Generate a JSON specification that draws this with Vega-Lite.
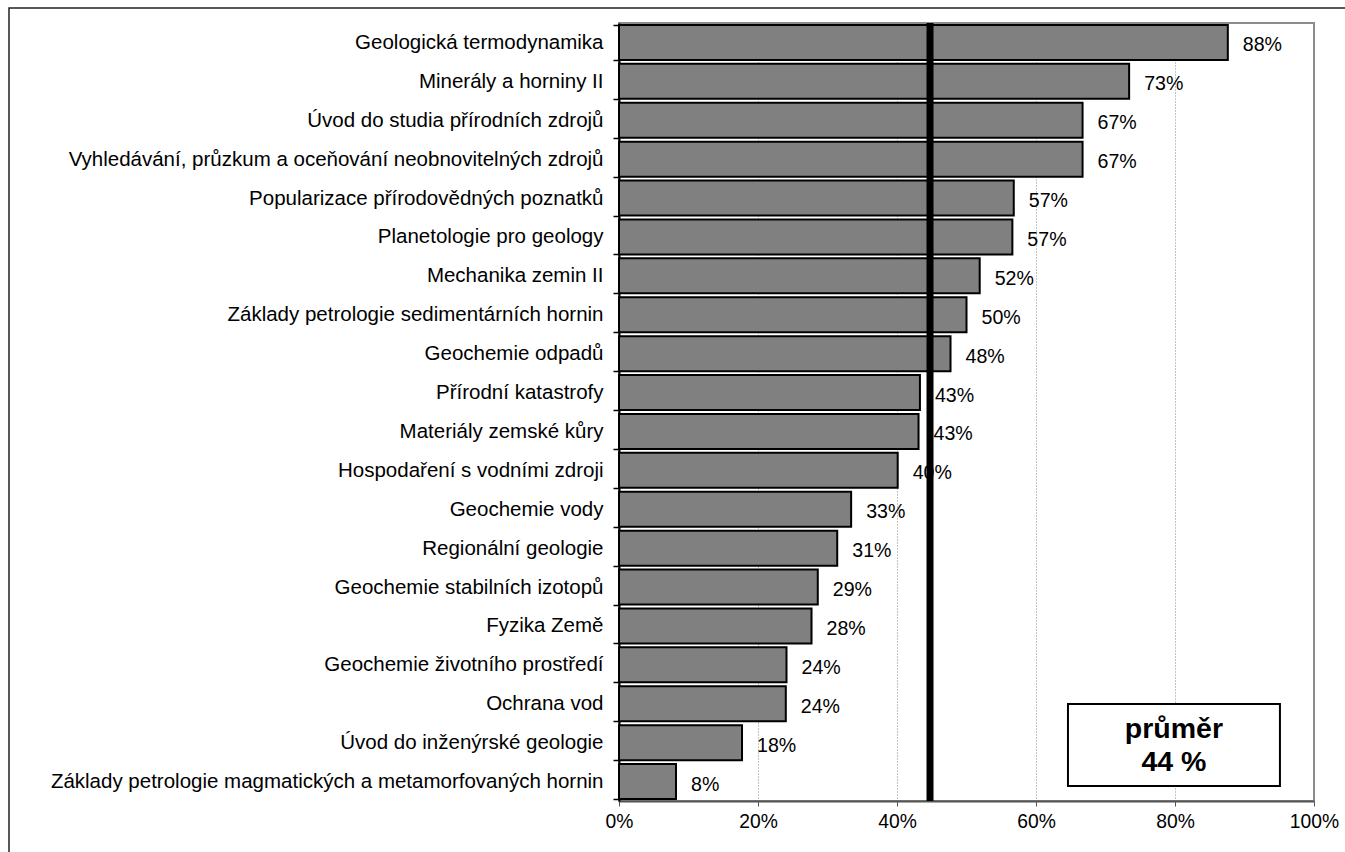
{
  "$schema": "https://vega.github.io/schema/vega-lite/v6.json",
  "width": 695,
  "height": 778,
  "autosize": {"type": "none"},
  "padding": {"left": 619, "top": 23, "right": 31, "bottom": 51},
  "background": "white",
  "config": {
    "font": "Liberation Sans",
    "view": {"stroke": "#8c8c8c", "strokeWidth": 2}
  },
  "datasets": {
    "courses": [
      {"k": "Geologická termodynamika", "v": 0.876},
      {"k": "Minerály a horniny II", "v": 0.734},
      {"k": "Úvod do studia přírodních zdrojů", "v": 0.667},
      {"k": "Vyhledávání, průzkum a oceňování neobnovitelných zdrojů", "v": 0.667},
      {"k": "Popularizace přírodovědných poznatků", "v": 0.568},
      {"k": "Planetologie pro geology", "v": 0.566},
      {"k": "Mechanika zemin II", "v": 0.519},
      {"k": "Základy petrologie sedimentárních hornin", "v": 0.5},
      {"k": "Geochemie odpadů", "v": 0.477},
      {"k": "Přírodní katastrofy", "v": 0.433},
      {"k": "Materiály zemské kůry", "v": 0.431},
      {"k": "Hospodaření s vodními zdroji", "v": 0.401},
      {"k": "Geochemie vody", "v": 0.334},
      {"k": "Regionální geologie", "v": 0.314},
      {"k": "Geochemie stabilních izotopů", "v": 0.286},
      {"k": "Fyzika Země", "v": 0.277},
      {"k": "Geochemie životního prostředí", "v": 0.241},
      {"k": "Ochrana vod", "v": 0.24},
      {"k": "Úvod do inženýrské geologie", "v": 0.177},
      {"k": "Základy petrologie magmatických a metamorfovaných hornin", "v": 0.082}
    ],
    "avg": [{"v": 0.4475}],
    "box": [{"x": 0.646, "x2": 0.951, "y": 0.0193, "y2": 0.1247}],
    "boxtext": [
      {"t": "průměr", "x": 0.7985, "y": 0.0925},
      {"t": "44 %", "x": 0.7985, "y": 0.05}
    ],
    "frame": [{"x": -0.8777, "x2": 1.2, "y": 1.0193, "y2": -0.2}]
  },
  "layer": [
    {
      "layer": [
        {
          "data": {"name": "courses"},
          "mark": {"type": "bar", "fill": "#808080", "stroke": "black", "strokeWidth": 2},
          "encoding": {
            "y": {
              "field": "k", "type": "nominal", "sort": null,
              "scale": {"paddingInner": 0.1, "paddingOuter": 0.05},
              "axis": {
                "title": null, "domainColor": "black", "domainWidth": 2,
                "tickColor": "black", "tickSize": 6, "tickWidth": 1.5, "tickBand": "extent",
                "labelFontSize": 20.5, "labelColor": "black", "labelPadding": 10, "labelLimit": 800,
                "labelFont": "Liberation Sans"
              }
            },
            "x": {
              "field": "v", "type": "quantitative",
              "scale": {"domain": [0, 1], "nice": false},
              "axis": {
                "title": null, "format": ".0%", "values": [0, 0.2, 0.4, 0.6, 0.8, 1],
                "grid": true, "gridDash": [1, 2], "gridColor": "#888", "gridWidth": 1,
                "domainColor": "#555", "domainWidth": 2, "tickColor": "#555", "tickSize": 5,
                "labelFontSize": 19.3, "labelColor": "black", "labelPadding": 6, "labelFlush": false,
                "labelFont": "Liberation Sans"
              }
            }
          }
        },
        {
          "data": {"name": "courses"},
          "mark": {"type": "text", "align": "left", "baseline": "middle", "dx": 15, "dy": 3, "fontSize": 19.6, "color": "black"},
          "encoding": {
            "y": {"field": "k", "type": "nominal", "sort": null},
            "x": {"field": "v", "type": "quantitative", "scale": {"domain": [0, 1], "nice": false}},
            "text": {"field": "v", "format": ".0%"}
          }
        },
        {
          "data": {"name": "avg"},
          "mark": {"type": "rule", "strokeWidth": 7, "color": "black"},
          "encoding": {
            "x": {"field": "v", "type": "quantitative", "scale": {"domain": [0, 1], "nice": false}}
          }
        }
      ]
    },
    {
      "layer": [
        {
          "data": {"name": "box"},
          "mark": {"type": "rect", "fill": "white", "stroke": "black", "strokeWidth": 2},
          "encoding": {
            "x": {"field": "x", "type": "quantitative", "scale": {"domain": [0, 1], "nice": false}},
            "x2": {"field": "x2"},
            "y": {"field": "y", "type": "quantitative", "scale": {"domain": [0, 1], "nice": false, "zero": false}, "axis": null},
            "y2": {"field": "y2"}
          }
        },
        {
          "data": {"name": "boxtext"},
          "mark": {"type": "text", "align": "center", "baseline": "middle", "fontSize": 28.5, "fontWeight": "bold", "color": "black"},
          "encoding": {
            "x": {"field": "x", "type": "quantitative", "scale": {"domain": [0, 1], "nice": false}},
            "y": {"field": "y", "type": "quantitative", "scale": {"domain": [0, 1], "nice": false, "zero": false}, "axis": null},
            "text": {"field": "t"}
          }
        },
        {
          "data": {"name": "frame"},
          "mark": {"type": "rect", "fill": null, "fillOpacity": 0, "stroke": "#222", "strokeWidth": 1.5, "clip": false},
          "encoding": {
            "x": {"field": "x", "type": "quantitative", "scale": {"domain": [0, 1], "nice": false}},
            "x2": {"field": "x2"},
            "y": {"field": "y", "type": "quantitative", "scale": {"domain": [0, 1], "nice": false, "zero": false}, "axis": null},
            "y2": {"field": "y2"}
          }
        }
      ]
    }
  ],
  "resolve": {"scale": {"y": "independent"}}
}
